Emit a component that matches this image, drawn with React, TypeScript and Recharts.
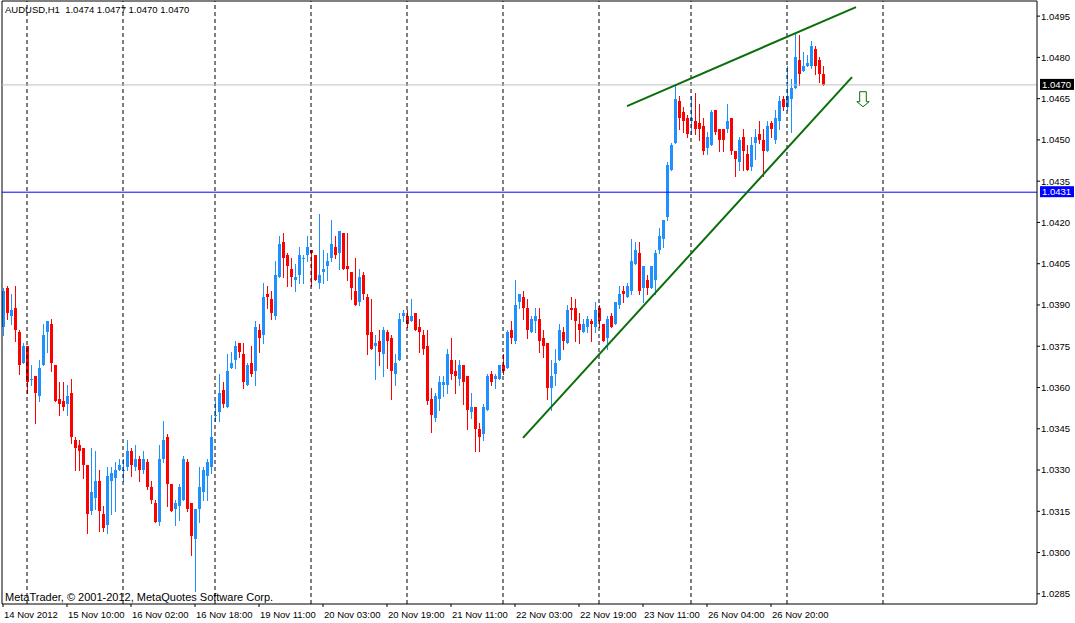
import { Bar, ComposedChart, ReferenceDot, ReferenceLine, XAxis, YAxis } from "recharts";

// AUDUSD H1, one entry per hourly bar (bar 0 = 14 Nov 18:00)
const OPEN = [
  1.0382, 1.0396, 1.0386, 1.0389, 1.038, 1.0369, 1.0375, 1.0363, 1.0364, 1.0357,
  1.0368, 1.038, 1.0383, 1.0368, 1.0356, 1.0355, 1.0354, 1.0358, 1.0341, 1.0339,
  1.0338, 1.0332, 1.0315, 1.032, 1.0326, 1.0314, 1.031, 1.0326, 1.0327, 1.033,
  1.033, 1.0331, 1.0337, 1.0331, 1.0334, 1.033, 1.0333, 1.0324, 1.0318, 1.0311,
  1.0334, 1.0342, 1.0325, 1.0316, 1.0317, 1.0319, 1.0333, 1.0318, 1.0305, 1.0316,
  1.0322, 1.0328, 1.0331, 1.035, 1.0351, 1.0359, 1.0353, 1.0367, 1.037, 1.0376,
  1.0372, 1.0361, 1.0369, 1.0366, 1.0381, 1.0379, 1.0394, 1.0392, 1.0386, 1.04,
  1.0413, 1.0408, 1.0403, 1.0399, 1.0401, 1.0407, 1.0408, 1.041, 1.0408, 1.0398,
  1.0402, 1.0404, 1.0407, 1.0411, 1.0409, 1.0416, 1.0404, 1.0402, 1.0395, 1.0391,
  1.0401, 1.0393, 1.038, 1.0375, 1.0377, 1.0372, 1.038, 1.0378, 1.0365, 1.037,
  1.0386, 1.0386, 1.0384, 1.0387, 1.0382, 1.0379, 1.0375, 1.0356, 1.0349, 1.0356,
  1.0361, 1.0361, 1.037, 1.0366, 1.0363, 1.0368, 1.0364, 1.0351, 1.0353, 1.0345,
  1.0343, 1.0352, 1.0365, 1.0363, 1.0363, 1.0368, 1.0367, 1.0381, 1.0377, 1.0391,
  1.0393, 1.0389, 1.038, 1.0384, 1.0385, 1.0378, 1.0376, 1.036, 1.0365, 1.037,
  1.038, 1.0376, 1.0389, 1.0389, 1.0383, 1.038, 1.0382, 1.0384, 1.0382, 1.0389,
  1.0383, 1.0378, 1.0386, 1.0383, 1.039, 1.0395, 1.0393, 1.0395, 1.0405, 1.0409,
  1.0396, 1.0399, 1.0396, 1.0399, 1.041, 1.0414, 1.0422, 1.0439, 1.0449, 1.0464,
  1.046, 1.0458, 1.0457, 1.0457, 1.0456, 1.0455, 1.0447, 1.0448, 1.0461, 1.0454,
  1.0454, 1.0454, 1.0458, 1.0446, 1.0442, 1.0451, 1.0445, 1.044, 1.0449, 1.0452,
  1.045, 1.0446, 1.0456, 1.045, 1.0457, 1.0465, 1.0462, 1.0465, 1.0469, 1.0479,
  1.0475, 1.0477, 1.0477, 1.0483, 1.0479, 1.0474,
];

const HIGH = [
  1.0396, 1.0397, 1.0394, 1.0397, 1.0381, 1.0376, 1.0375, 1.0368, 1.0364, 1.037,
  1.0383, 1.0384, 1.0385, 1.0368, 1.0362, 1.0362, 1.0361, 1.0363, 1.0342, 1.0341,
  1.0338, 1.0332, 1.0338, 1.0337, 1.033, 1.0317, 1.0331, 1.0331, 1.0333, 1.0334,
  1.0334, 1.0341, 1.0338, 1.0339, 1.0335, 1.0337, 1.0334, 1.0326, 1.0319, 1.0339,
  1.0348, 1.0343, 1.0325, 1.0319, 1.0325, 1.0335, 1.0334, 1.0318, 1.0316, 1.0331,
  1.0331, 1.0334, 1.035, 1.0355, 1.0365, 1.0362, 1.0372, 1.0373, 1.0377, 1.0376,
  1.0376, 1.0369, 1.0375, 1.0384, 1.0383, 1.0398, 1.0397, 1.0395, 1.0406, 1.0415,
  1.0416, 1.0409, 1.0407, 1.0405, 1.0411, 1.0408, 1.0415, 1.041, 1.0408, 1.0423,
  1.041, 1.0409, 1.0421, 1.0415, 1.0417, 1.0416, 1.0416, 1.0402, 1.0407, 1.0403,
  1.0402, 1.0394, 1.0392, 1.0379, 1.0381, 1.0382, 1.0381, 1.0379, 1.0372, 1.0387,
  1.0388, 1.0388, 1.0392, 1.0387, 1.0385, 1.0381, 1.0381, 1.036, 1.0358, 1.0364,
  1.0364, 1.0374, 1.0378, 1.037, 1.037, 1.0368, 1.0364, 1.0358, 1.0353, 1.0347,
  1.0354, 1.0365, 1.0366, 1.0365, 1.0368, 1.0372, 1.0381, 1.0384, 1.0399, 1.0394,
  1.0395, 1.0392, 1.0386, 1.0389, 1.0389, 1.0381, 1.0376, 1.037, 1.0374, 1.0383,
  1.0382, 1.039, 1.0393, 1.0392, 1.0387, 1.0385, 1.0386, 1.0385, 1.0391, 1.039,
  1.0383, 1.0386, 1.0387, 1.0391, 1.0397, 1.0397, 1.0398, 1.0414, 1.0413, 1.0413,
  1.0404, 1.0401, 1.0404, 1.041, 1.0418, 1.0421, 1.0442, 1.0449, 1.047, 1.0466,
  1.0462, 1.0459, 1.0466, 1.0467, 1.0463, 1.0458, 1.0453, 1.0461, 1.0461, 1.0454,
  1.0454, 1.0463, 1.0458, 1.0446, 1.0451, 1.0454, 1.0448, 1.0451, 1.0454, 1.0457,
  1.0454, 1.0457, 1.0457, 1.0461, 1.0466, 1.0466, 1.0477, 1.0472, 1.0489, 1.0488,
  1.0482, 1.0481, 1.0486, 1.0484, 1.048, 1.0477,
];

const LOW = [
  1.0379, 1.0385, 1.0383, 1.0377, 1.0365, 1.0369, 1.0358, 1.0361, 1.0347, 1.0355,
  1.0368, 1.0373, 1.0366, 1.0355, 1.035, 1.0352, 1.035, 1.034, 1.033, 1.033,
  1.0327, 1.0307, 1.0314, 1.0316, 1.0308, 1.0308, 1.0307, 1.0314, 1.0315, 1.033,
  1.0326, 1.033, 1.0328, 1.033, 1.0326, 1.0329, 1.0323, 1.0318, 1.0311, 1.031,
  1.0333, 1.0317, 1.0315, 1.031, 1.0312, 1.0319, 1.0315, 1.0299, 1.0286, 1.0311,
  1.0319, 1.0319, 1.0329, 1.0348, 1.0348, 1.0353, 1.0353, 1.0367, 1.0367, 1.0371,
  1.036, 1.0361, 1.0364, 1.0361, 1.0373, 1.0376, 1.0389, 1.0385, 1.0385, 1.04,
  1.04, 1.0397, 1.0397, 1.0395, 1.0398, 1.0398, 1.0406, 1.0397, 1.0399, 1.0396,
  1.0398, 1.0399, 1.0406, 1.0407, 1.0403, 1.0403, 1.0399, 1.0392, 1.039, 1.039,
  1.0392, 1.0372, 1.0374, 1.0363, 1.0368, 1.0364, 1.0367, 1.0356, 1.0361, 1.037,
  1.0384, 1.0382, 1.0384, 1.0381, 1.0373, 1.0372, 1.0354, 1.0344, 1.0348, 1.0352,
  1.0357, 1.0358, 1.0363, 1.0358, 1.0361, 1.0354, 1.0345, 1.0349, 1.0337, 1.0337,
  1.0341, 1.0352, 1.0361, 1.036, 1.0363, 1.0365, 1.0367, 1.0376, 1.0376, 1.0389,
  1.0385, 1.0378, 1.038, 1.038, 1.0373, 1.0371, 1.0356, 1.0352, 1.0361, 1.037,
  1.0374, 1.0376, 1.0385, 1.0377, 1.0376, 1.038, 1.038, 1.0377, 1.038, 1.0382,
  1.0377, 1.0374, 1.0382, 1.0383, 1.0389, 1.0391, 1.0393, 1.0394, 1.0405, 1.0394,
  1.0391, 1.0394, 1.0396, 1.0394, 1.0409, 1.0411, 1.0421, 1.0439, 1.0449, 1.0454,
  1.0453, 1.0451, 1.0452, 1.0452, 1.045, 1.0445, 1.0445, 1.0448, 1.0452, 1.0446,
  1.0446, 1.0453, 1.0445, 1.0437, 1.0439, 1.0439, 1.0439, 1.0439, 1.0443, 1.0449,
  1.0437, 1.0446, 1.0451, 1.0449, 1.0454, 1.0461, 1.0461, 1.0453, 1.0469, 1.047,
  1.0475, 1.0477, 1.0476, 1.0474, 1.0471, 1.047,
];

const CLOSE = [
  1.0395, 1.0387, 1.0388, 1.0381, 1.0368, 1.0375, 1.0362, 1.0363, 1.0358, 1.0367,
  1.0379, 1.0384, 1.0369, 1.0355, 1.0354, 1.0353, 1.0357, 1.0342, 1.0338, 1.0337,
  1.0332, 1.0314, 1.0322, 1.0326, 1.0315, 1.0309, 1.0328, 1.0329, 1.033, 1.0332,
  1.033, 1.0337, 1.0332, 1.0334, 1.033, 1.0334, 1.0324, 1.0319, 1.0311, 1.0334,
  1.0341, 1.0325, 1.0315, 1.0318, 1.0324, 1.0334, 1.0316, 1.0306, 1.0316, 1.0324,
  1.033, 1.0333, 1.0342, 1.035, 1.0358, 1.0354, 1.0366, 1.0369, 1.0375, 1.0373,
  1.0362, 1.0368, 1.0365, 1.0382, 1.0378, 1.0393, 1.0393, 1.0387, 1.0401, 1.0412,
  1.0407, 1.0404, 1.04, 1.04, 1.0408, 1.0407, 1.0411, 1.0409, 1.0399, 1.0401,
  1.0403, 1.0406, 1.0412, 1.0408, 1.0417, 1.0403, 1.0403, 1.0396, 1.039, 1.04,
  1.0394, 1.0379, 1.0374, 1.0376, 1.0373, 1.0381, 1.0377, 1.0366, 1.0369, 1.0385,
  1.0387, 1.0383, 1.0386, 1.0381, 1.038, 1.0374, 1.0355, 1.035, 1.0357, 1.0362,
  1.0362, 1.0372, 1.0365, 1.0364, 1.0368, 1.0362, 1.0352, 1.0353, 1.0345, 1.0342,
  1.0353, 1.0364, 1.0362, 1.0364, 1.0368, 1.0366, 1.038, 1.0378, 1.039, 1.0394,
  1.0389, 1.0381, 1.0385, 1.0386, 1.0377, 1.0375, 1.036, 1.0364, 1.0369, 1.0381,
  1.0377, 1.0388, 1.0388, 1.0384, 1.0381, 1.0383, 1.0385, 1.0383, 1.0388, 1.0384,
  1.0377, 1.0385, 1.0382, 1.0391, 1.0394, 1.0394, 1.0397, 1.0406, 1.041, 1.0395,
  1.0404, 1.0396, 1.0404, 1.0409, 1.0415, 1.0421, 1.0441, 1.0448, 1.0465, 1.0458,
  1.0457, 1.0452, 1.0458, 1.0454, 1.0454, 1.0446, 1.0451, 1.046, 1.0453, 1.045,
  1.045, 1.0457, 1.0446, 1.0443, 1.045, 1.0446, 1.0439, 1.0448, 1.0451, 1.045,
  1.0446, 1.0455, 1.0454, 1.0458, 1.0464, 1.0462, 1.0466, 1.0469, 1.048, 1.0474,
  1.0477, 1.0478, 1.0484, 1.0477, 1.0474, 1.047,
];

const X_TICKS = [0, 16, 32, 48, 64, 80, 96, 112, 128, 144, 160, 176, 192];
const X_LABELS = [
  "14 Nov 2012", "15 Nov 10:00", "16 Nov 02:00", "16 Nov 18:00", "19 Nov 11:00",
  "20 Nov 03:00", "20 Nov 19:00", "21 Nov 11:00", "22 Nov 03:00", "22 Nov 19:00",
  "23 Nov 11:00", "26 Nov 04:00", "26 Nov 20:00",
];
// bars that open a new trading day
const DAY_STARTS = [6, 30, 53, 77, 101, 125, 149, 172, 196, 220];

const Y_TICKS = [
  1.0285, 1.03, 1.0315, 1.033, 1.0345, 1.036, 1.0375, 1.039, 1.0405, 1.042,
  1.0435, 1.045, 1.0465, 1.048, 1.0495,
];

const UPPER_TREND = [
  { bar: 156, price: 1.04623 },
  { bar: 213.25, price: 1.04983 },
];
const LOWER_TREND = [
  { bar: 130, price: 1.03417 },
  { bar: 212.25, price: 1.04728 },
];
const ARROW = { bar: 215, price: 1.04648 };
const BID = 1.047;
const LEVEL = 1.0431;

const X_DOMAIN: [number, number] = [-0.25, 258.5];
const Y_DOMAIN: [number, number] = [1.02813, 1.05005];

const BULL = "#1e90ff";
const BEAR = "#ff0000";
const TREND = "#0a6e0a";
const FONT = "'Liberation Sans', Arial, sans-serif";

const rows = OPEN.map((o, i) => ({
  bar: i,
  o,
  h: HIGH[i],
  l: LOW[i],
  c: CLOSE[i],
}));

function Candle(props: any) {
  const { x, y, width, height, payload } = props;
  if (!payload || x == null) return null;
  const { o, h, l, c } = payload;
  const top = Math.min(y, y + height);
  const span = Math.abs(height);
  const py = (v: number) => top + ((h - v) / (h - l || 1)) * span;
  const cx = Math.round(x + width / 2);
  const color = c >= o ? BULL : BEAR;
  const bTop = Math.round(py(Math.max(o, c)));
  const bBot = Math.round(py(Math.min(o, c)));
  return (
    <g>
      <line x1={cx + 0.5} x2={cx + 0.5} y1={Math.round(top)} y2={Math.round(top + span) + 1} stroke={color} />
      <rect x={cx - 1} y={bTop} width={3} height={Math.max(1, bBot - bTop)} fill={color} />
    </g>
  );
}

function TimeTick({ x, y, payload }: any) {
  const idx = X_TICKS.indexOf(payload.value);
  if (idx < 0) return null;
  return (
    <text x={x + 1} y={y + 11} fontSize={9.5} fontFamily={FONT} fill="#000" textAnchor="start">
      {X_LABELS[idx]}
    </text>
  );
}

function PriceTag({ viewBox, text, bg }: any) {
  if (!viewBox) return null;
  const x = viewBox.x + viewBox.width + 3;
  const y = viewBox.y;
  return (
    <g>
      <rect x={x} y={y - 6} width={34} height={11} fill={bg} />
      <text x={x + 2} y={y} dy="0.33em" fontSize={9.5} fontFamily={FONT} fill="#fff">
        {text}
      </text>
    </g>
  );
}

function DownArrow({ cx, cy }: any) {
  if (cx == null) return null;
  const d = `M${cx - 3.3},${cy - 7.5} L${cx + 3.3},${cy - 7.5} L${cx + 3.3},${cy + 2.5} L${cx + 6.2},${cy + 2.5} L${cx},${cy + 7.5} L${cx - 6.2},${cy + 2.5} L${cx - 3.3},${cy + 2.5} Z`;
  return <path d={d} fill="#fff" stroke={TREND} strokeWidth={1} />;
}

export default function App() {
  return (
    <div style={{ position: "absolute", left: 0, top: 0, width: 1075, height: 623, background: "#fff" }}>
      <ComposedChart
        width={1075}
        height={623}
        data={rows}
        margin={{ top: 1, right: 0, bottom: 0, left: 2 }}
      >
        <XAxis
          type="number"
          dataKey="bar"
          domain={X_DOMAIN}
          allowDataOverflow
          ticks={X_TICKS}
          interval={0}
          height={19}
          tickSize={3}
          tickMargin={0}
          stroke="#000"
          tick={<TimeTick />}
        />
        <YAxis
          orientation="right"
          type="number"
          domain={Y_DOMAIN}
          allowDataOverflow
          ticks={Y_TICKS}
          interval={0}
          width={38}
          tickSize={3}
          tickMargin={1}
          stroke="#000"
          tickFormatter={(v: number) => v.toFixed(4)}
          tick={{ fontSize: 9.5, fontFamily: FONT, fill: "#000", textAnchor: "start" }}
        />
        <ReferenceLine x={X_DOMAIN[0]} stroke="#000" />
        <ReferenceLine y={Y_DOMAIN[1]} stroke="#000" />
        {DAY_STARTS.map((b) => (
          <ReferenceLine key={b} x={b} stroke="#000" strokeDasharray="4 3" />
        ))}
        <ReferenceLine
          y={BID}
          stroke="#c0c0c0"
          label={<PriceTag text={BID.toFixed(4)} bg="#000" />}
        />
        <ReferenceLine
          y={LEVEL}
          stroke="#0000ff"
          label={<PriceTag text={LEVEL.toFixed(4)} bg="#0000ff" />}
        />
        <Bar
          dataKey={(r: any) => [r.l, r.h]}
          barSize={3}
          shape={<Candle />}
          isAnimationActive={false}
        />
        <ReferenceLine
          segment={UPPER_TREND.map((p) => ({ x: p.bar, y: p.price }))}
          stroke={TREND}
          strokeWidth={2}
        />
        <ReferenceLine
          segment={LOWER_TREND.map((p) => ({ x: p.bar, y: p.price }))}
          stroke={TREND}
          strokeWidth={2}
        />
        <ReferenceDot x={ARROW.bar} y={ARROW.price} r={7} shape={<DownArrow />} />
      </ComposedChart>
      <div
        style={{
          position: "absolute",
          left: 5,
          top: 4,
          fontFamily: FONT,
          fontSize: 9.5,
          lineHeight: "12px",
          whiteSpace: "pre",
        }}
      >
        {"AUDUSD,H1  1.0474 1.0477 1.0470 1.0470"}
      </div>
      <div
        style={{
          position: "absolute",
          left: 5,
          top: 591,
          fontFamily: FONT,
          fontSize: 11,
          lineHeight: "13px",
          whiteSpace: "pre",
        }}
      >
        MetaTrader, © 2001-2012, MetaQuotes Software Corp.
      </div>
    </div>
  );
}
